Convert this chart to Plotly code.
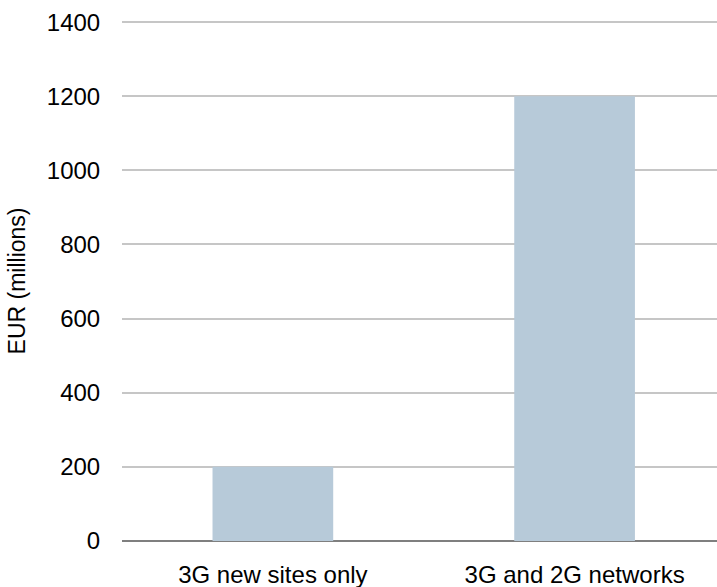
import plotly.graph_objects as go

# Network rollout cost scenarios
categories = ["3G new sites only", "3G and 2G networks"]
costs_eur_m = [200, 1200]
y_ticks = [0, 200, 400, 600, 800, 1000, 1200, 1400]

BAR_COLOR = "#b7cad9"
GRID_COLOR = "#c6c6c6"
ZERO_COLOR = "#7f7f7f"
FONT = "Liberation Sans, Arial, sans-serif"

fig = go.Figure(
    go.Bar(
        x=categories,
        y=costs_eur_m,
        marker=dict(color=BAR_COLOR, line=dict(width=0)),
        width=0.4,
        hoverinfo="x+y",
    )
)

fig.update_layout(
    width=717,
    height=587,
    margin=dict(l=122, r=0, t=21, b=46),
    paper_bgcolor="white",
    plot_bgcolor="white",
    font=dict(family=FONT, size=24, color="#000000"),
    showlegend=False,
)

fig.update_xaxes(
    type="category",
    range=[-0.5, 1.472],
    showgrid=False,
    showline=False,
    zeroline=False,
    ticks="outside",
    ticklen=12,
    tickcolor="white",
    tickfont=dict(size=24),
    automargin=False,
)

fig.update_yaxes(
    range=[0, 1403],
    tickvals=y_ticks,
    showgrid=True,
    gridcolor=GRID_COLOR,
    gridwidth=2,
    zeroline=True,
    zerolinecolor=ZERO_COLOR,
    zerolinewidth=2,
    showline=False,
    ticks="outside",
    ticklen=16,
    tickcolor="white",
    tickfont=dict(size=24),
    title=dict(text="EUR (millions)", font=dict(size=23), standoff=14),
    automargin=False,
)

fig.write_html("out.html")
